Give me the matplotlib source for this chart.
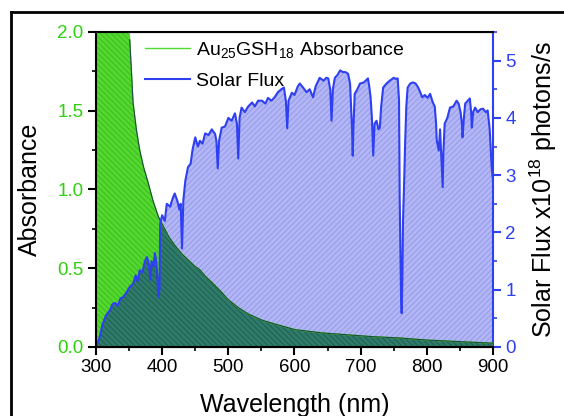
# Au25GSH18 absorbance vs solar photon flux
import numpy as np
import matplotlib
matplotlib.use("Agg")
import matplotlib.pyplot as plt
from matplotlib.lines import Line2D
from matplotlib.ticker import MultipleLocator

plt.rcParams["font.family"] = ["Liberation Sans", "DejaVu Sans"]
plt.rcParams["mathtext.fontset"] = "custom"
plt.rcParams["mathtext.rm"] = "Liberation Sans"
plt.rcParams["hatch.linewidth"] = 0.6

# solar flux (x10^18 photons/s)
solar_wl = [300, 305, 310, 315, 321, 325, 329, 333, 337, 341, 346, 351, 356, 360, 363, 366, 370, 374,
            377, 380, 382, 384, 387, 389, 391, 393, 394, 396, 397, 400, 404, 407, 412, 416, 419, 423,
            426, 428, 430, 432, 435, 439, 443, 446, 450, 454, 457, 461, 465, 470, 475, 480, 482, 484,
            486, 490, 495, 500, 505, 510, 513, 515, 517, 520, 525, 530, 536, 540, 545, 551, 556, 560,
            565, 570, 575, 580, 584, 587, 589, 591, 596, 600, 605, 608, 613, 618, 623, 628, 632, 638,
            644, 648, 651, 654, 656, 658, 661, 665, 669, 673, 677, 681, 684, 687, 688, 689, 691, 695,
            699, 705, 711, 713, 715, 717, 719, 721, 724, 727, 729, 731, 734, 739, 744, 750, 753, 756,
            758, 759, 761, 762, 763, 764, 766, 767, 769, 771, 775, 779, 783, 787, 790, 793, 797, 801,
            805, 809, 812, 814, 815, 818, 820, 822, 824, 825, 827, 831, 835, 840, 845, 848, 851, 853,
            854, 856, 858, 862, 865, 867, 868, 870, 873, 877, 881, 885, 889, 892, 895, 898, 900]
solar_flux = [0.0, 0.15, 0.4, 0.55, 0.64, 0.75, 0.77, 0.72, 0.85, 0.87, 0.95, 1.05, 1.1, 1.25, 1.15, 1.34,
              1.3, 1.5, 1.57, 1.45, 1.17, 1.5, 1.4, 1.64, 1.5, 1.2, 0.87, 1.0, 2.16, 2.3, 2.2, 2.5, 2.45,
              2.6, 2.68, 2.55, 2.4, 2.5, 1.72, 2.56, 2.9, 3.14, 3.2, 3.45, 3.66, 3.5, 3.6, 3.55, 3.73,
              3.7, 3.8, 3.72, 3.6, 3.12, 3.6, 3.83, 3.85, 4.0, 3.95, 4.08, 3.9, 3.29, 4.0, 4.18, 4.1,
              4.2, 4.27, 4.2, 4.3, 4.3, 4.25, 4.35, 4.3, 4.36, 4.45, 4.5, 4.53, 4.3, 3.82, 4.3, 4.44,
              4.4, 4.55, 4.6, 4.53, 4.45, 4.5, 4.36, 4.55, 4.7, 4.65, 4.7, 4.69, 4.5, 3.95, 4.5, 4.7,
              4.75, 4.83, 4.8, 4.8, 4.77, 4.6, 3.8, 3.34, 3.8, 4.42, 4.5, 4.6, 4.62, 4.69, 4.55, 4.36,
              4.0, 3.34, 3.9, 3.95, 3.8, 3.83, 4.2, 4.53, 4.6, 4.65, 4.7, 4.68, 4.69, 4.3, 2.6, 0.9,
              0.59, 1.2, 2.2, 3.0, 3.48, 4.2, 4.53, 4.6, 4.62, 4.6, 4.53, 4.45, 4.36, 4.4, 4.35, 4.42,
              4.27, 4.2, 3.9, 3.61, 3.43, 3.8, 3.3, 2.79, 3.4, 3.9, 4.0, 4.18, 4.2, 4.3, 4.25, 4.1,
              3.9, 3.66, 4.0, 4.25, 4.3, 4.34, 4.1, 3.83, 4.1, 4.18, 4.1, 4.15, 4.16, 4.1, 4.13, 3.8,
              3.14, 2.9]

# absorbance of Au25GSH18
abs_wl = [300, 310, 320, 330, 340, 346, 351, 356, 361, 366, 372, 379, 386, 394, 400, 410, 420, 430,
          440, 450, 457, 465, 475, 487, 500, 515, 530, 551, 575, 601, 640, 684, 720, 760, 800, 850,
          895, 900]
absorbance = [3.6, 3.3, 3.0, 2.7, 2.4, 2.2, 1.95, 1.55, 1.38, 1.25, 1.14, 1.04, 0.93, 0.83, 0.78, 0.7,
              0.64, 0.59, 0.55, 0.51, 0.49, 0.45, 0.41, 0.36, 0.30, 0.25, 0.21, 0.17, 0.14, 0.11, 0.09,
              0.076, 0.065, 0.057, 0.044, 0.034, 0.025, 0.024]

GREEN = "#52d82e"
GREEN_TXT = "#2fd10f"
BLUE = "#2f3ff2"
LAVENDER = "#b3b6f5"
TEAL = "#2f7b6b"

fig = plt.figure(figsize=(5.64, 4.16), dpi=100)
ax = fig.add_axes([0.1702, 0.1659, 0.7039, 0.7572])
ax2 = ax.twinx()
ax.set_zorder(ax2.get_zorder() + 1)
ax.patch.set_visible(False)

# solar flux fill sits behind
solar_fill = ax2.fill_between(solar_wl, 0, solar_flux, facecolor=LAVENDER, edgecolor="#9097e8",
                              hatch="//////", linewidth=0)

# absorbance fill, with the overlap in dark teal
ax.fill_between(abs_wl, 0, absorbance, facecolor=GREEN, edgecolor="#3db61f",
                hatch="\\\\\\\\\\\\", linewidth=0)
overlap = ax.fill_between(abs_wl, 0, absorbance, facecolor=TEAL, edgecolor="#1e5a4c",
                          hatch="\\\\\\\\\\\\", linewidth=0)
overlap.set_clip_path(solar_fill.get_paths()[0], ax2.transData)

abs_line, = ax.plot(abs_wl, absorbance, color=GREEN, lw=1.0, label=r"Au$\mathregular{_{25}}$GSH$\mathregular{_{18}}$ Absorbance")
ax.plot(abs_wl[6:], absorbance[6:], color="#1d4a40", lw=0.8)
sol_line, = ax.plot(solar_wl, solar_flux, color=BLUE, lw=1.5, transform=ax2.transData, label="Solar Flux")

ax.set_xlim(300, 900)
ax.set_ylim(0, 2.0)
ax2.set_ylim(0, 5.5)

ax.xaxis.set_major_locator(MultipleLocator(100))
ax.xaxis.set_minor_locator(MultipleLocator(50))
ax.yaxis.set_major_locator(MultipleLocator(0.5))
ax.yaxis.set_minor_locator(MultipleLocator(0.25))
ax2.yaxis.set_major_locator(MultipleLocator(1))
ax2.yaxis.set_minor_locator(MultipleLocator(0.5))

ax.tick_params(which="major", direction="out", length=6, width=1.5, labelsize=13.5, pad=3)
ax.tick_params(which="minor", direction="out", length=3, width=1.2)
ax.tick_params(axis="y", which="both", right=False, labelcolor=GREEN_TXT)
ax.tick_params(axis="x", which="both", top=False)
ax2.tick_params(which="major", direction="out", length=6, width=1.5, labelsize=13.5, pad=3, colors=BLUE)
ax2.tick_params(which="minor", direction="out", length=3, width=1.2, colors=BLUE)

for s in ["left", "bottom", "top"]:
    ax.spines[s].set_linewidth(1.5)
ax.spines["right"].set_visible(False)
ax2.spines["right"].set_color(BLUE)
ax2.spines["right"].set_linewidth(1.5)

ax.set_xlabel("Wavelength (nm)", fontsize=18, labelpad=12)
ax.set_ylabel("Absorbance", fontsize=18, labelpad=11)
ax2.set_ylabel(r"Solar Flux x10$\mathregular{^{18}}$ photons/s", fontsize=18, labelpad=8)

ax.legend(handles=[abs_line, sol_line], loc="upper left", bbox_to_anchor=(0.10, 1.005),
          frameon=False, fontsize=14, borderpad=0, handlelength=2.3, handletextpad=0.3,
          labelspacing=0.64)

# outer frame of the figure
fig.add_artist(Line2D([11 / 564, 11 / 564], [0, 1 - 12 / 416], transform=fig.transFigure, color="black", lw=2))
fig.add_artist(Line2D([11 / 564, 1], [1 - 12 / 416, 1 - 12 / 416], transform=fig.transFigure, color="black", lw=2))

fig.savefig("out.png", dpi=100)
